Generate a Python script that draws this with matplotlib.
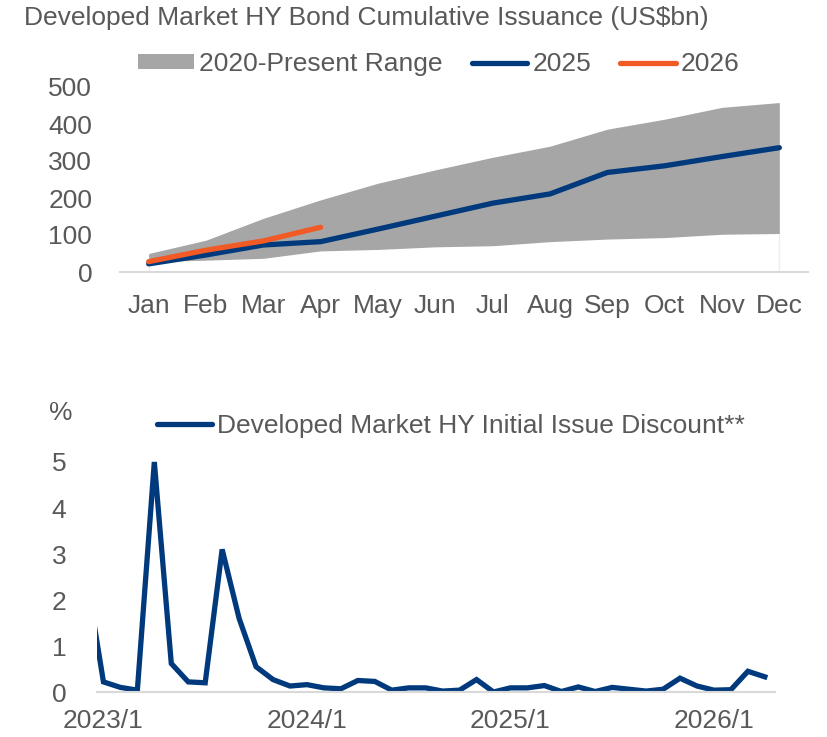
import matplotlib.pyplot as plt
from matplotlib.patches import Patch
from matplotlib.lines import Line2D
import numpy as np
import pandas as pd

plt.rcParams['font.family'] = ['Liberation Sans', 'DejaVu Sans']

# top chart data (US$bn, cumulative)
months = ['Jan', 'Feb', 'Mar', 'Apr', 'May', 'Jun', 'Jul', 'Aug', 'Sep', 'Oct', 'Nov', 'Dec']
range_low = [28, 32, 37, 57, 61, 68, 71, 82, 89, 93, 102, 104]
range_high = [50, 86, 145, 195, 240, 276, 310, 340, 386, 413, 445, 458]
iss_2025 = [22, 46, 73, 82, 116, 151, 186, 211, 269, 287, 312, 336]
iss_2026 = [28, 59, 84, 121]

# bottom chart data (%), monthly from 2022/12 to 2026/4
oid_months = [p.strftime('%Y/%-m') for p in pd.period_range('2022-12', '2026-04', freq='M')]
oid = [2.5, 0.22, 0.10, 0.04, 5.0, 0.62, 0.22, 0.20, 3.1, 1.6, 0.55, 0.27, 0.13,
       0.16, 0.09, 0.07, 0.25, 0.23, 0.04, 0.09, 0.09, 0.02, 0.04, 0.27, 0.0,
       0.09, 0.09, 0.14, 0.01, 0.11, 0.01, 0.10, 0.06, 0.02, 0.06, 0.30, 0.13,
       0.04, 0.05, 0.45, 0.33]
oid_ticks = ['2023/1', '2024/1', '2025/1', '2026/1']

navy = '#003A7D'
orange = '#F15A24'
grey = '#A6A6A6'
txt = '#595959'
axc = '#D9D9D9'
fs = 19

fig = plt.figure(figsize=(8.28, 7.37), dpi=100)

# ---- top chart
ax1 = fig.add_axes([120/828, 1 - 272/737, 688/828, 185/737])
x = np.arange(len(months))
ax1.fill_between(x, range_low, range_high, color=grey, lw=0)
ax1.vlines([x[0], x[-1]], 0, [range_low[0], range_low[-1]], color='#EFEFEF', lw=1)
ax1.plot(x, iss_2025, color=navy, lw=3.8, solid_capstyle='round')
ax1.plot(x[:len(iss_2026)], iss_2026, color=orange, lw=3.8, solid_capstyle='round')
ax1.set_xlim(-0.5, 11.5)
ax1.set_ylim(0, 500)
ax1.set_xticks(x)
ax1.set_xticklabels(months)
ax1.set_yticks([0, 100, 200, 300, 400, 500])

fig.text(24/828, 1 - 18/737, 'Developed Market HY Bond Cumulative Issuance (US$bn)',
         fontsize=fs, color=txt, va='center', ha='left')

h1 = [Patch(facecolor=grey, edgecolor='none'),
      Line2D([], [], color=navy, lw=3.8, solid_capstyle='round'),
      Line2D([], [], color=orange, lw=3.8, solid_capstyle='round')]
fig.legend(h1, ['2020-Present Range', '2025', '2026'], loc='center',
           bbox_to_anchor=(439/828, 1 - 64/737), ncol=3, frameon=False,
           fontsize=fs, labelcolor=txt, handlelength=2.1, handleheight=0.5,
           handletextpad=0.2, columnspacing=1.1, borderaxespad=0, borderpad=0)

# ---- bottom chart (5 sits at y=462px, 46px per unit, a little headroom above)
ax2 = fig.add_axes([97/828, 1 - 692/737, 678/828, 234.6/737])
xb = np.arange(len(oid))
ax2.plot(xb, oid, color=navy, lw=3.8, solid_joinstyle='miter')
ax2.set_xlim(0.62, 40.6)
ax2.set_ylim(0, 5.1)
ax2.set_xticks([oid_months.index(t) for t in oid_ticks])
ax2.set_xticklabels(oid_ticks)
ax2.set_yticks([0, 1, 2, 3, 4, 5])

fig.text(61/828, 1 - 413/737, '%', fontsize=fs, color=txt, ha='center', va='center')

h2 = [Line2D([], [], color=navy, lw=3.8, solid_capstyle='round')]
fig.legend(h2, ['Developed Market HY Initial Issue Discount**'], loc='center',
           bbox_to_anchor=(451/828, 1 - 426/737), frameon=False,
           fontsize=fs, labelcolor=txt, handlelength=2.1,
           handletextpad=0.2, borderaxespad=0, borderpad=0)

for ax, ypad, xpad in [(ax1, 20, 16), (ax2, 22, 12)]:
    for s in ['top', 'right', 'left']:
        ax.spines[s].set_visible(False)
    ax.spines['bottom'].set_color(axc)
    ax.spines['bottom'].set_linewidth(1.5)
    ax.tick_params(axis='both', length=0, labelsize=fs, colors=txt)
    ax.tick_params(axis='y', pad=ypad)
    ax.tick_params(axis='x', pad=xpad)
    ax.set_facecolor('none')

fig.savefig('out.png', dpi=100)
